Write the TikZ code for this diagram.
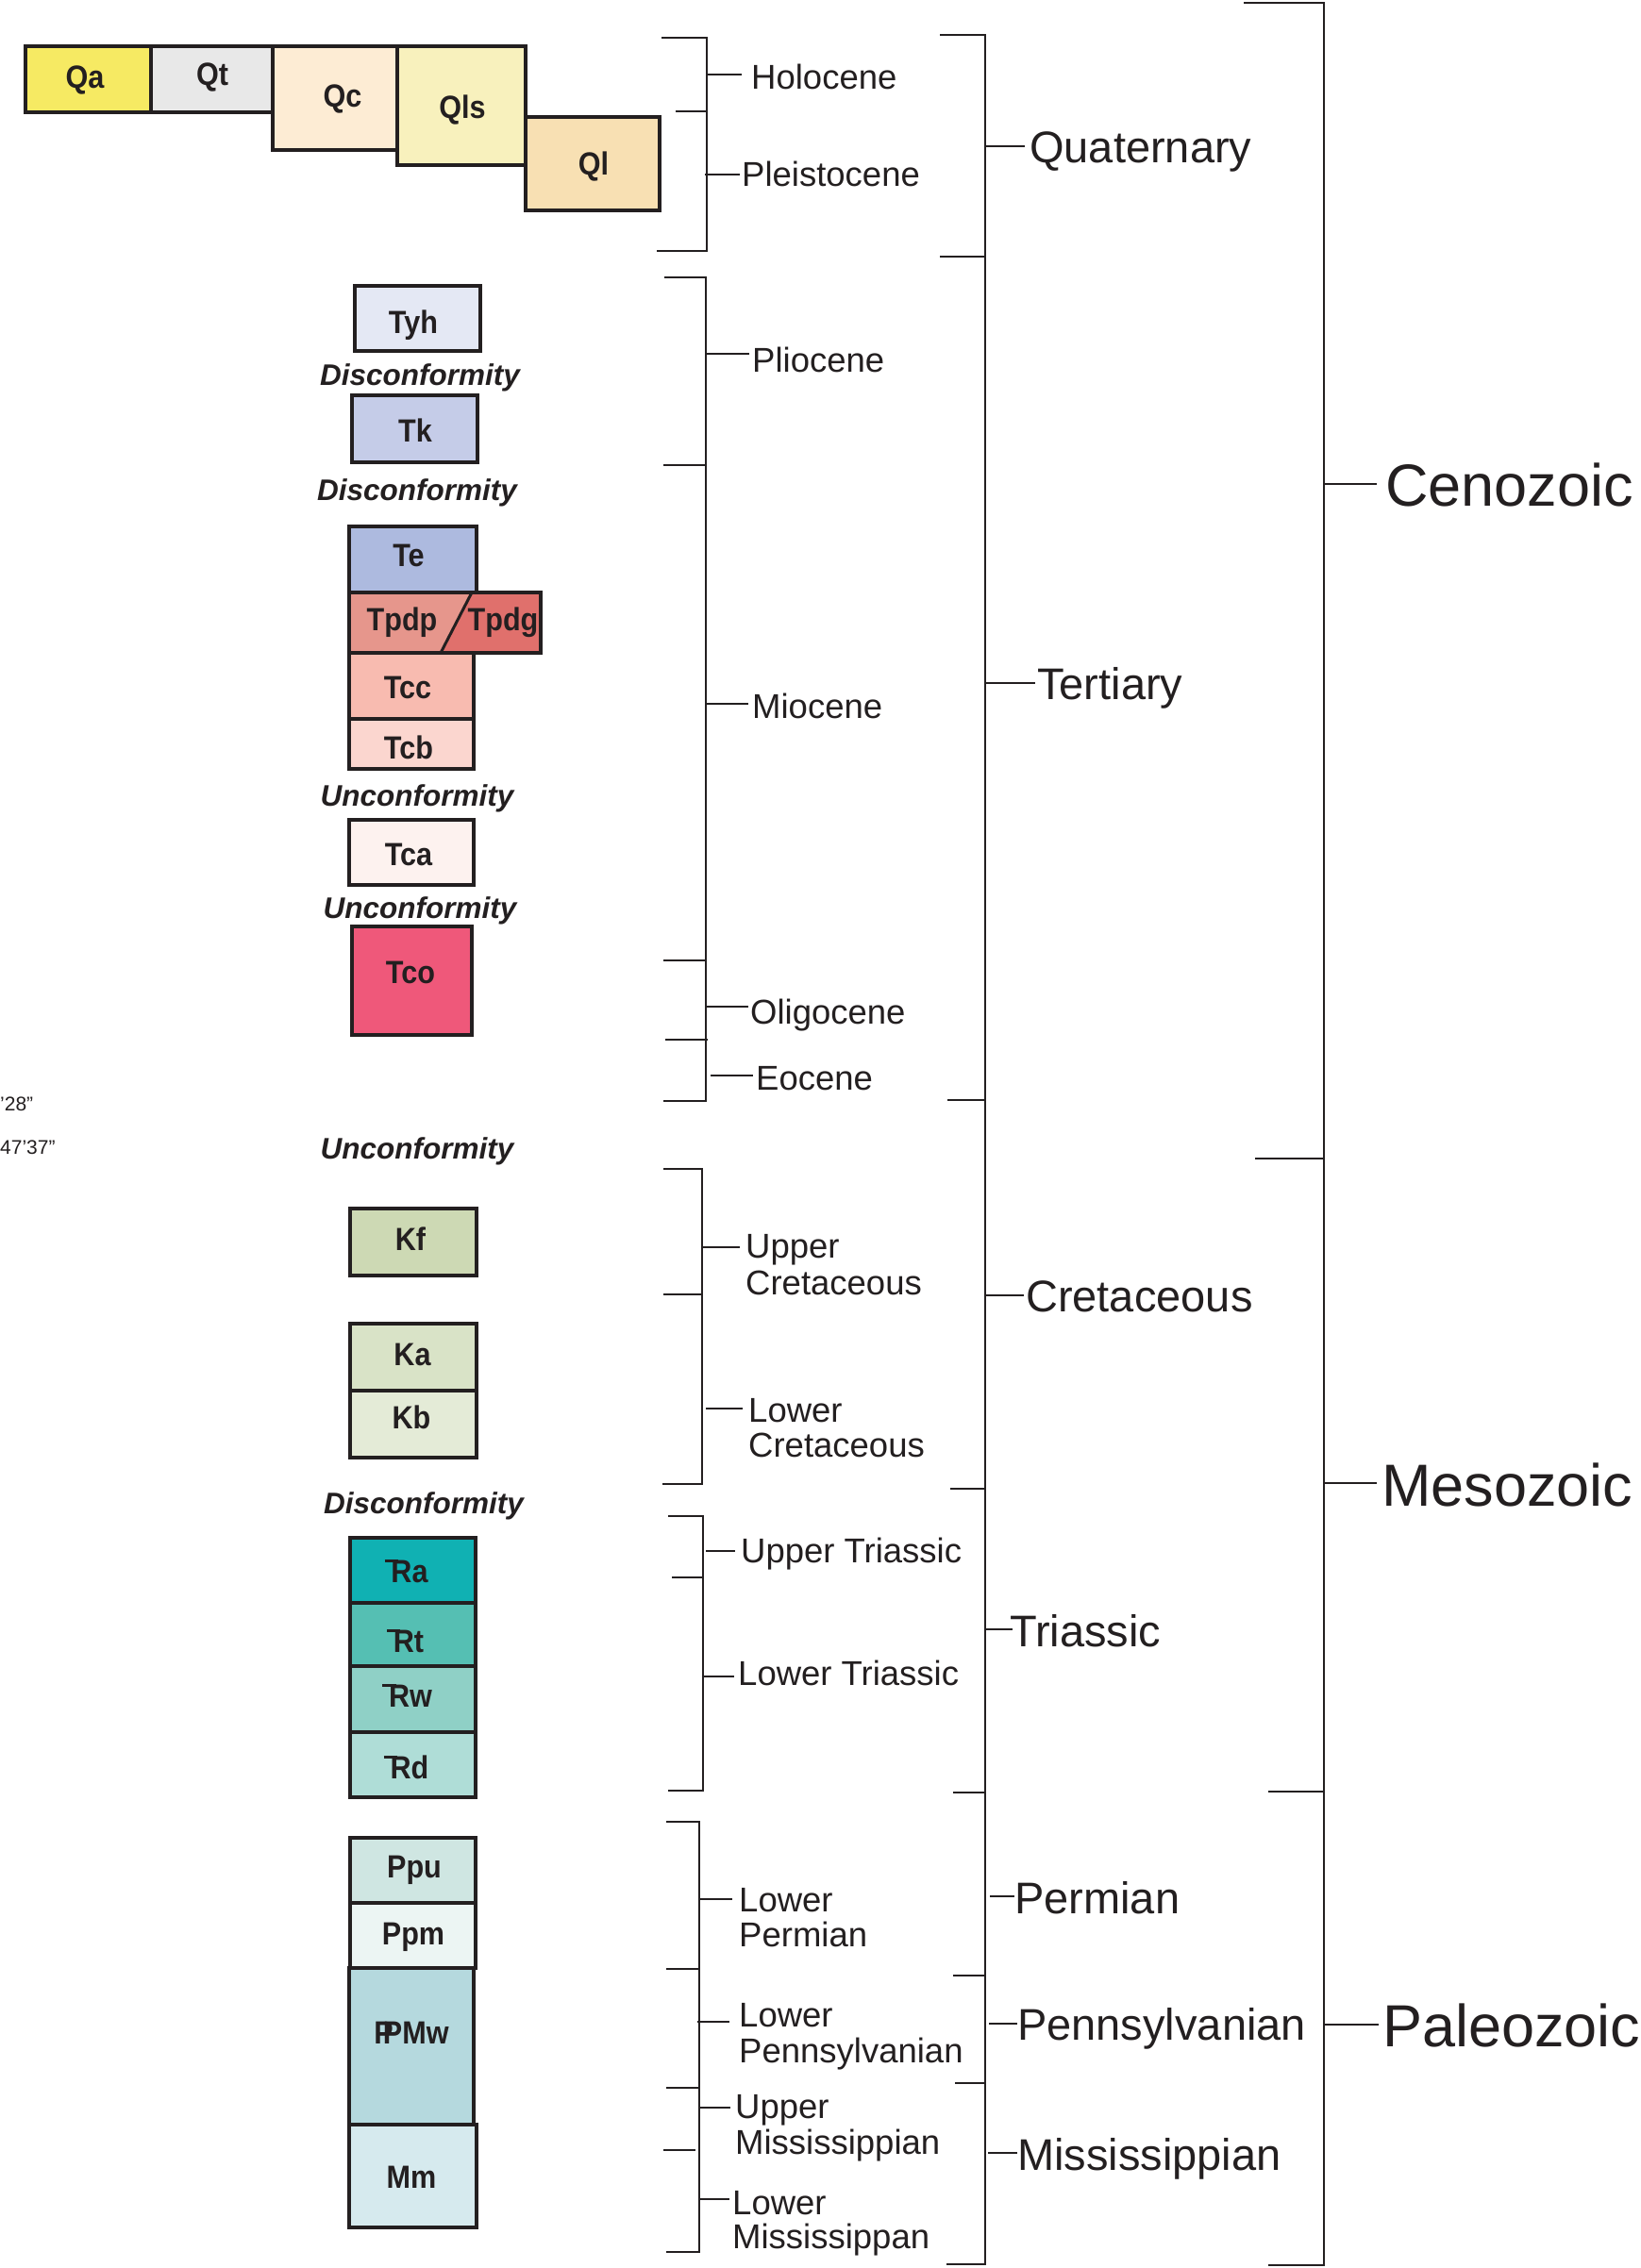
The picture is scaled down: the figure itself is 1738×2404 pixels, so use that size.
\documentclass[tikz,border=0pt]{standalone}
\usepackage{fontspec}
\setmainfont{Liberation Sans}
\newfontfamily\boxfont[FakeStretch=0.9]{Liberation Sans}
\definecolor{ink}{HTML}{231F20}
\definecolor{cQa}{HTML}{F6EA63}
\definecolor{cQt}{HTML}{E8E8E8}
\definecolor{cQc}{HTML}{FDECD4}
\definecolor{cQls}{HTML}{F8F1BD}
\definecolor{cQl}{HTML}{F8E0B3}
\definecolor{cTyh}{HTML}{E4E8F4}
\definecolor{cTk}{HTML}{C5CCE8}
\definecolor{cTe}{HTML}{ADBADF}
\definecolor{cTpdp}{HTML}{E6968C}
\definecolor{cTpdg}{HTML}{E0706C}
\definecolor{cTcc}{HTML}{F8BBB0}
\definecolor{cTcb}{HTML}{FBD6CF}
\definecolor{cTca}{HTML}{FDF2EF}
\definecolor{cTco}{HTML}{EF587A}
\definecolor{cKf}{HTML}{CDD9B4}
\definecolor{cKa}{HTML}{D9E3C7}
\definecolor{cKb}{HTML}{E4EBD7}
\definecolor{cRa}{HTML}{10B1B3}
\definecolor{cRt}{HTML}{55BFB3}
\definecolor{cRw}{HTML}{8FD0C6}
\definecolor{cRd}{HTML}{AFDDD7}
\definecolor{cPpu}{HTML}{CFE6E2}
\definecolor{cPpm}{HTML}{ECF5F3}
\definecolor{cPPMw}{HTML}{B5D9DE}
\definecolor{cMm}{HTML}{D6EAEE}
\newcommand\trs{\makebox[0pt][l]{\hspace{-0.2em}\rule[0.62em]{0.42em}{0.1em}}R}
\newcommand\pnsym{\makebox[0pt][l]{P}\hspace{0.28em}P}
\tikzset{
  unit/.style={draw=ink, line width=4pt},
  blbl/.style={font=\boxfont\bfseries\fontsize{34}{40}\selectfont, text=ink, inner sep=0pt, anchor=base},
  ital/.style={font=\bfseries\itshape\fontsize{31.5}{38}\selectfont, text=ink, inner sep=0pt, anchor=base},
  epoch/.style={font=\fontsize{36.5}{42}\selectfont, text=ink, inner sep=0pt, anchor=base west},
  period/.style={font=\fontsize{47}{54}\selectfont, text=ink, inner sep=0pt, anchor=base west},
  era/.style={font=\fontsize{63}{70}\selectfont, text=ink, inner sep=0pt, anchor=base west},
  coordtxt/.style={font=\fontsize{21}{26}\selectfont, text=ink, inner sep=0pt, anchor=base west},
  brk/.style={draw=ink, line width=2.6pt}
}
\begin{document}
\begin{tikzpicture}[x=1pt,y=-1pt]
\useasboundingbox (0,0) rectangle (1738,2404);
\fill[white] (0,0) rectangle (1738,2404);

% ---------- Quaternary units ----------
\path[unit,fill=cQa] (27,49) rectangle (160,119);
\path[unit,fill=cQt] (160,49) rectangle (289,119);
\path[unit,fill=cQc] (289,49) rectangle (421,159);
\path[unit,fill=cQls] (421,49) rectangle (557,175);
\path[unit,fill=cQl] (557,124) rectangle (699,223);
\node[blbl] (lQa) at (90,93) {Qa};
\node[blbl] (lQt) at (225,90) {Qt};
\node[blbl] (lQc) at (363,113) {Qc};
\node[blbl] (lQls) at (490,125) {Qls};
\node[blbl] (lQl) at (629,185) {Ql};

% ---------- Tertiary units ----------
\path[unit,fill=cTyh] (376,303) rectangle (509,372);
\node[blbl] (lTyh) at (438,353) {Tyh};
\node[ital] (dc1) at (445,408) {Disconformity};
\path[unit,fill=cTk] (373,419) rectangle (506,490);
\node[blbl] (lTk) at (440,468) {Tk};
\node[ital] (dc2) at (442,530) {Disconformity};
\path[unit,fill=cTe] (370,558) rectangle (505,628);
\node[blbl] (lTe) at (433,600) {Te};
\fill[cTpdp] (370,628) -- (500,628) -- (467,692) -- (370,692) -- cycle;
\fill[cTpdg] (500,628) -- (573,628) -- (573,692) -- (467,692) -- cycle;
\draw[unit] (370,628) rectangle (573,692);
\draw[ink, line width=3pt] (500,628) -- (467,692);
\node[blbl] (lTpdp) at (426,668) {Tpdp};
\node[blbl] (lTpdg) at (533,668) {Tpdg};
\path[unit,fill=cTcc] (370,692) rectangle (502,762);
\node[blbl] (lTcc) at (432,740) {Tcc};
\path[unit,fill=cTcb] (370,762) rectangle (502,815);
\node[blbl] (lTcb) at (433,804) {Tcb};
\node[ital] (uc1) at (442,854) {Unconformity};
\path[unit,fill=cTca] (370,869) rectangle (502,938);
\node[blbl] (lTca) at (433,917) {Tca};
\node[ital] (uc2) at (445,973) {Unconformity};
\path[unit,fill=cTco] (373,982) rectangle (500,1097);
\node[blbl] (lTco) at (435,1042) {Tco};
\node[ital] (uc3) at (442,1228) {Unconformity};

% ---------- Cretaceous units ----------
\path[unit,fill=cKf] (371,1281) rectangle (505,1352);
\node[blbl] (lKf) at (435,1325) {Kf};
\path[unit,fill=cKa] (371,1403) rectangle (505,1474);
\path[unit,fill=cKb] (371,1474) rectangle (505,1545);
\node[blbl] (lKa) at (437,1447) {Ka};
\node[blbl] (lKb) at (436,1514) {Kb};
\node[ital] (dc3) at (449,1604) {Disconformity};

% ---------- Triassic units ----------
\path[unit,fill=cRa] (371,1630) rectangle (504,1699);
\path[unit,fill=cRt] (371,1699) rectangle (504,1766);
\path[unit,fill=cRw] (371,1766) rectangle (504,1836);
\path[unit,fill=cRd] (371,1836) rectangle (504,1905);
\node[blbl] (lRa) at (434,1677) {\trs a};
\node[blbl] (lRt) at (433,1751) {\trs t};
\node[blbl] (lRw) at (435,1809) {\trs w};
\node[blbl] (lRd) at (434,1885) {\trs d};

% ---------- Paleozoic units ----------
\path[unit,fill=cPpu] (371,1948) rectangle (504,2017);
\path[unit,fill=cPpm] (371,2017) rectangle (504,2086);
\path[unit,fill=cPPMw] (370,2086) rectangle (502,2252);
\path[unit,fill=cMm] (370,2252) rectangle (505,2361);
\node[blbl] (lPpu) at (439,1990) {Ppu};
\node[blbl] (lPpm) at (438,2061) {Ppm};
\node[blbl] (lPPMw) at (436,2166) {\pnsym Mw};
\node[blbl] (lMm) at (436,2319) {Mm};

% ---------- coordinates at left edge ----------
\node[coordtxt] (c1) at (0,1177) {’28”};
\node[coordtxt] (c2) at (0,1223) {47’37”};

% ---------- Epoch brackets ----------
\draw[brk] (701,40) -- (749,40) -- (749,266) -- (696,266);
\draw[brk] (716,118) -- (749,118);
\draw[brk] (749,79) -- (786,79);
\draw[brk] (747,185) -- (784,185);
\node[epoch] (holo) at (796,94) {Holocene};
\node[epoch] (pleist) at (786,197) {Pleistocene};

\draw[brk] (704,294) -- (748,294) -- (748,1167) -- (703,1167);
\draw[brk] (703,493) -- (748,493);
\draw[brk] (703,1018) -- (748,1018);
\draw[brk] (705,1102) -- (750,1102);
\draw[brk] (748,375) -- (794,375);
\draw[brk] (748,746) -- (793,746);
\draw[brk] (748,1067) -- (793,1067);
\draw[brk] (753,1140) -- (798,1140);
\node[epoch] (plio) at (797,394) {Pliocene};
\node[epoch] (mio) at (797,761) {Miocene};
\node[epoch] (oligo) at (795,1085) {Oligocene};
\node[epoch] (eoc) at (801,1155) {Eocene};

\draw[brk] (703,1239) -- (744,1239) -- (744,1573) -- (702,1573);
\draw[brk] (703,1372) -- (744,1372);
\draw[brk] (745,1322) -- (784,1322);
\draw[brk] (748,1493) -- (787,1493);
\node[epoch] (uk1) at (790,1333) {Upper};
\node[epoch] (uk2) at (790,1372) {Cretaceous};
\node[epoch] (lk1) at (793,1507) {Lower};
\node[epoch] (lk2) at (793,1544) {Cretaceous};

\draw[brk] (708,1607) -- (745,1607) -- (745,1898) -- (708,1898);
\draw[brk] (712,1672) -- (745,1672);
\draw[brk] (748,1644) -- (779,1644);
\draw[brk] (745,1777) -- (778,1777);
\node[epoch] (ut) at (785,1656) {Upper Triassic};
\node[epoch] (lt) at (782,1786) {Lower Triassic};

\draw[brk] (706,1931) -- (741,1931) -- (741,2387) -- (706,2387);
\draw[brk] (706,2087) -- (741,2087);
\draw[brk] (706,2213) -- (741,2213);
\draw[brk] (703,2279) -- (737,2279);
\draw[brk] (741,2013) -- (776,2013);
\draw[brk] (739,2143) -- (773,2143);
\draw[brk] (741,2234) -- (774,2234);
\draw[brk] (741,2331) -- (773,2331);
\node[epoch] (lp1) at (783,2026) {Lower};
\node[epoch] (lp2) at (783,2063) {Permian};
\node[epoch] (lpn1) at (783,2148) {Lower};
\node[epoch] (lpn2) at (783,2186) {Pennsylvanian};
\node[epoch] (um1) at (779,2245) {Upper};
\node[epoch] (um2) at (779,2283) {Mississippian};
\node[epoch] (lm1) at (776,2347) {Lower};
\node[epoch] (lm2) at (776,2383) {Mississippan};

% ---------- Period brackets ----------
\draw[brk] (996,37) -- (1044,37) -- (1044,2400) -- (1003,2400);
\draw[brk] (996,272) -- (1044,272);
\draw[brk] (1004,1166) -- (1044,1166);
\draw[brk] (1007,1578) -- (1044,1578);
\draw[brk] (1010,1900) -- (1044,1900);
\draw[brk] (1010,2094) -- (1044,2094);
\draw[brk] (1012,2208) -- (1044,2208);
\draw[brk] (1044,155) -- (1086,155);
\draw[brk] (1044,724) -- (1097,724);
\draw[brk] (1044,1373) -- (1085,1373);
\draw[brk] (1044,1727) -- (1073,1727);
\draw[brk] (1049,2010) -- (1075,2010);
\draw[brk] (1048,2145) -- (1078,2145);
\draw[brk] (1047,2282) -- (1078,2282);
\node[period] (quat) at (1091,172) {Quaternary};
\node[period] (tert) at (1099,741) {Tertiary};
\node[period] (cret) at (1087,1390) {Cretaceous};
\node[period] (tria) at (1070,1745) {Triassic};
\node[period] (perm) at (1075,2028) {Permian};
\node[period] (penn) at (1078,2162) {Pennsylvanian};
\node[period] (miss) at (1078,2300) {Mississippian};

% ---------- Era brackets ----------
\draw[brk] (1318,3) -- (1403,3) -- (1403,2401) -- (1344,2401);
\draw[brk] (1330,1228) -- (1403,1228);
\draw[brk] (1344,1899) -- (1403,1899);
\draw[brk] (1403,513) -- (1459,513);
\draw[brk] (1403,1572) -- (1459,1572);
\draw[brk] (1403,2146) -- (1461,2146);
\node[era] (ceno) at (1468,536) {Cenozoic};
\node[era] (meso) at (1464,1596) {Mesozoic};
\node[era] (paleo) at (1465,2169) {Paleozoic};
\end{tikzpicture}
\end{document}
